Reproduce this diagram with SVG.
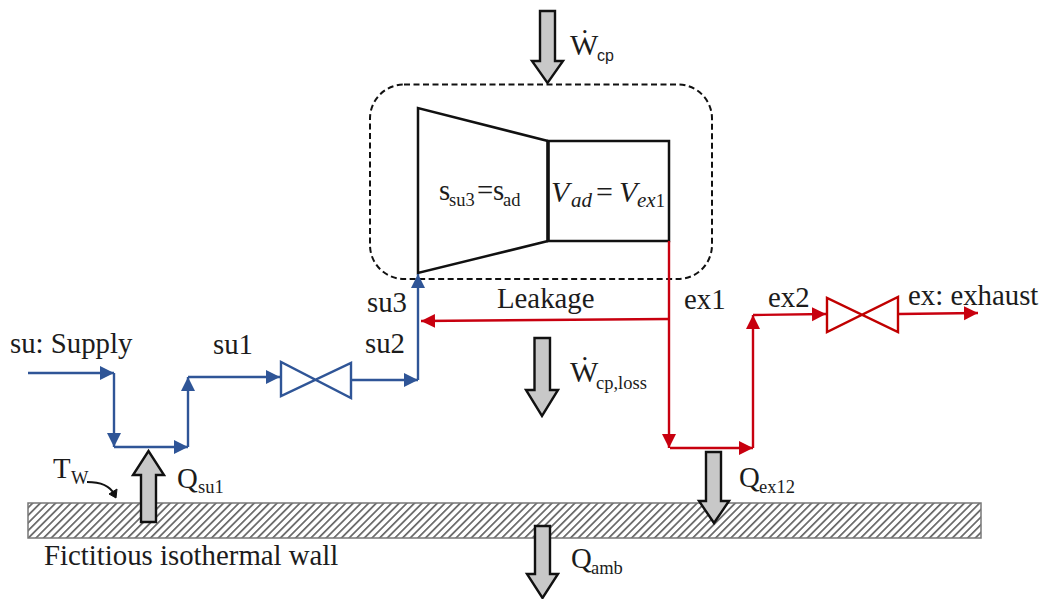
<svg xmlns="http://www.w3.org/2000/svg" width="1041" height="599" viewBox="0 0 1041 599">
<style>
text{font-family:"Liberation Serif",serif;fill:#1c1c1c;font-size:28.800px}
.sub{font-size:18.500px}
.sans{font-family:"Liberation Sans",sans-serif;font-size:16px}
.w{font-size:30px}
.math{font-style:italic;font-size:30px}
.msub{font-style:italic;font-size:21px}
.b{fill:none;stroke:#2f5597;stroke-width:2.400}
.r{fill:none;stroke:#c8000f;stroke-width:2.400}
.vb{fill:#fff;stroke:#2f5597;stroke-width:2.400}
.vr{fill:#fff;stroke:#c00000;stroke-width:2.400}
.big{fill:#c8c8c8;stroke:#111;stroke-width:2.400;stroke-linejoin:miter}
.k{fill:none;stroke:#111;stroke-width:2.500}
</style>
<defs>
<marker id="mb" markerUnits="userSpaceOnUse" markerWidth="16" markerHeight="16" refX="14" refY="8" orient="auto"><path d="M0 1L14 8L0 15Z" fill="#2f5597"/></marker>
<marker id="mr" markerUnits="userSpaceOnUse" markerWidth="16" markerHeight="16" refX="14" refY="8" orient="auto"><path d="M0 1L14 8L0 15Z" fill="#c8000f"/></marker>
<pattern id="hatch" patternUnits="userSpaceOnUse" width="5.400" height="5.400" patternTransform="rotate(-45)"><rect width="5.400" height="5.400" fill="#fff"/><rect width="5.400" height="1.700" fill="#666"/></pattern>
</defs>
<g id="wall"><rect x="28" y="503" width="953" height="35" fill="url(#hatch)" stroke="#777" stroke-width="1.500"/></g>
<g id="boundary"><rect x="370" y="84.500" width="342" height="194.500" rx="34" fill="none" stroke="#111" stroke-width="2" stroke-dasharray="6 3.500"/></g>
<g id="compressor">
<path class="k" d="M548 141L418 108V273L548 241"/>
<rect class="k" x="548" y="141" width="121" height="100"/>
<path d="M548 141V241" stroke="#111" stroke-width="3.500"/>
<text x="439" y="200">s<tspan class="sub" dy="6" x="449">su3</tspan><tspan dy="-6" x="477">=</tspan><tspan x="493">s</tspan><tspan class="sub" dy="6" x="503">ad</tspan></text>
<text x="551" y="202" class="math">V<tspan class="msub" dy="5" x="571">ad</tspan><tspan dy="-5" font-style="normal" x="596">=</tspan><tspan x="619">V</tspan><tspan class="msub" dy="5" x="637">ex</tspan><tspan class="sub" font-style="normal" font-size="20">1</tspan></text>
</g>
<g id="connectors">
<path class="b" d="M28 373H114" marker-end="url(#mb)"/>
<path class="b" d="M114 373V447" marker-end="url(#mb)"/>
<path class="b" d="M114 447H188" marker-end="url(#mb)"/>
<path class="b" d="M188 447V377" marker-end="url(#mb)"/>
<path class="b" d="M188 377H280" marker-end="url(#mb)"/>
<path class="b" d="M351 380H418" marker-end="url(#mb)"/>
<path class="b" d="M418 380V274" marker-end="url(#mb)"/>
<path class="r" d="M669 241V448" marker-end="url(#mr)"/>
<path class="r" d="M669 319L421 321" marker-end="url(#mr)"/>
<path class="r" d="M670 448H753" marker-end="url(#mr)"/>
<path class="r" d="M753 448V315" marker-end="url(#mr)"/>
<path class="r" d="M753 315L826 314" marker-end="url(#mr)"/>
<path class="r" d="M899 314L978 313" marker-end="url(#mr)"/>
<path d="M87 482C100 482 110 486 114 494" fill="none" stroke="#111" stroke-width="2"/>
<path d="M109 494L117 489L116 498Z" fill="#111" stroke="#111"/>
</g>
<g id="valve-su"><path class="vb" d="M281 362V396L351 363V398Z"/></g>
<g id="valve-ex"><path class="vr" d="M827 298V332L898 297V332Z"/></g>
<g id="arrow-wcp"><path class="big" d="M540 11H555V61H563L547.500 83L532 61H540Z"/></g>
<g id="arrow-wloss"><path class="big" d="M534.500 338H550V390H558L542 416L526 390H534.500Z"/></g>
<g id="arrow-qamb"><path class="big" d="M535 526H550V574H558L542.500 598L527 574H535Z"/></g>
<g id="arrow-qsu1"><path class="big" d="M141 522H156V475H164L148.500 451L133 475H141Z"/></g>
<g id="arrow-qex"><path class="big" d="M706 452H721V501H729L714 523L699 501H706Z"/></g>
<g id="labels">
<text x="570" y="55" class="w">Ẇ<tspan class="sans" dy="6" x="597">cp</tspan></text>
<text x="10" y="353">su: Supply</text>
<text x="213" y="354">su1</text>
<text x="365" y="353">su2</text>
<text x="367" y="312">su3</text>
<text x="497" y="308">Leakage</text>
<text x="684" y="309">ex1</text>
<text x="768" y="307">ex2</text>
<text x="908" y="305">ex: exhaust</text>
<text x="570" y="382" class="w">Ẇ<tspan class="sub" dy="7" x="596">cp,loss</tspan></text>
<text x="53" y="478">T<tspan class="sub" dy="6" x="71">W</tspan></text>
<text x="177" y="488">Q<tspan class="sub" dy="5" x="198">su1</tspan></text>
<text x="739" y="487">Q<tspan class="sub" dy="6" x="759">ex12</tspan></text>
<text x="571" y="568">Q<tspan class="sub" dy="6" x="591">amb</tspan></text>
<text x="44" y="565">Fictitious isothermal wall</text>
</g>
</svg>
